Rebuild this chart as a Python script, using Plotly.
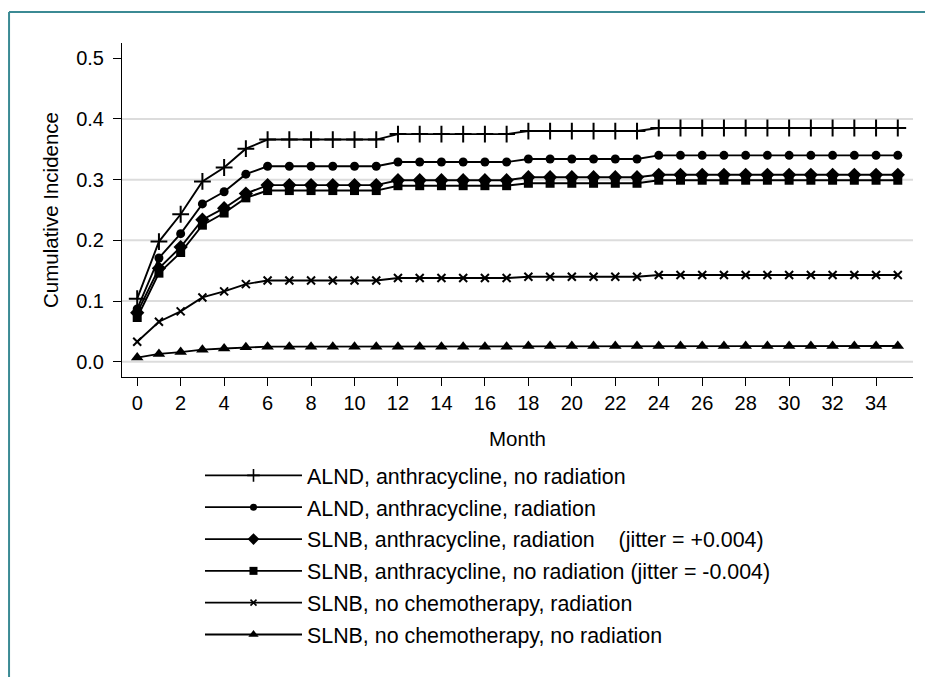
import plotly.graph_objects as go

months = list(range(36))

alnd_anth_nort = [0.104, 0.198, 0.243, 0.297, 0.320, 0.351,
                  0.366, 0.366, 0.366, 0.366, 0.366, 0.366,
                  0.375, 0.375, 0.375, 0.375, 0.375, 0.375,
                  0.380, 0.380, 0.380, 0.380, 0.380, 0.380,
                  0.385, 0.385, 0.385, 0.385, 0.385, 0.385,
                  0.385, 0.385, 0.385, 0.385, 0.385, 0.385]
alnd_anth_rt = [0.087, 0.171, 0.211, 0.260, 0.280, 0.309,
                0.322, 0.322, 0.322, 0.322, 0.322, 0.322,
                0.329, 0.329, 0.329, 0.329, 0.329, 0.329,
                0.334, 0.334, 0.334, 0.334, 0.334, 0.334,
                0.340, 0.340, 0.340, 0.340, 0.340, 0.340,
                0.340, 0.340, 0.340, 0.340, 0.340, 0.340]
slnb_anth_rt = [0.081, 0.154, 0.189, 0.234, 0.253, 0.277,
                0.291, 0.291, 0.291, 0.291, 0.291, 0.291,
                0.299, 0.299, 0.299, 0.299, 0.299, 0.299,
                0.304, 0.304, 0.304, 0.304, 0.304, 0.304,
                0.308, 0.308, 0.308, 0.308, 0.308, 0.308,
                0.308, 0.308, 0.308, 0.308, 0.308, 0.308]
slnb_anth_nort = [0.073, 0.146, 0.180, 0.225, 0.245, 0.270,
                  0.282, 0.282, 0.282, 0.282, 0.282, 0.282,
                  0.290, 0.290, 0.290, 0.290, 0.290, 0.290,
                  0.294, 0.294, 0.294, 0.294, 0.294, 0.294,
                  0.299, 0.299, 0.299, 0.299, 0.299, 0.299,
                  0.299, 0.299, 0.299, 0.299, 0.299, 0.299]
slnb_nochemo_rt = [0.033, 0.066, 0.083, 0.106, 0.116, 0.128,
                   0.134, 0.134, 0.134, 0.134, 0.134, 0.134,
                   0.138, 0.138, 0.138, 0.138, 0.138, 0.138,
                   0.140, 0.140, 0.140, 0.140, 0.140, 0.140,
                   0.143, 0.143, 0.143, 0.143, 0.143, 0.143,
                   0.143, 0.143, 0.143, 0.143, 0.143, 0.143]
slnb_nochemo_nort = [0.007, 0.013, 0.016, 0.020, 0.022, 0.024,
                     0.025, 0.025, 0.025, 0.025, 0.025, 0.025,
                     0.025, 0.025, 0.025, 0.025, 0.025, 0.025,
                     0.026, 0.026, 0.026, 0.026, 0.026, 0.026,
                     0.026, 0.026, 0.026, 0.026, 0.026, 0.026,
                     0.026, 0.026, 0.026, 0.026, 0.026, 0.026]

NB = "\u00a0"
series_names = [
    "ALND, anthracycline, no radiation",
    "ALND, anthracycline, radiation",
    "SLNB, anthracycline, radiation" + NB * 4 + "(jitter = +0.004)",
    "SLNB, anthracycline, no radiation (jitter = -0.004)",
    "SLNB, no chemotherapy, radiation",
    "SLNB, no chemotherapy, no radiation",
]
series_values = [alnd_anth_nort, alnd_anth_rt, slnb_anth_rt,
                 slnb_anth_nort, slnb_nochemo_rt, slnb_nochemo_nort]
symbols = ["cross-thin-open", "circle", "diamond", "square", "x-thin-open", "triangle-up"]
plot_sizes = [12, 9, 11, 9, 8, 11]
legend_sizes = [9, 7, 9, 8, 6, 9]

y_ticks = [0.0, 0.1, 0.2, 0.3, 0.4, 0.5]
y_tick_labels = ["0.0", "0.1", "0.2", "0.3", "0.4", "0.5"]
grid_values = [0.0, 0.1, 0.2, 0.3, 0.4]
x_ticks = list(range(0, 36, 2))

FONT = "Liberation Sans, Arial, Helvetica, sans-serif"

fig = go.Figure()
for i, (name, vals, sym) in enumerate(zip(series_names, series_values, symbols)):
    thin = "thin" in sym
    fig.add_trace(go.Scatter(
        x=months, y=vals, mode="lines+markers", showlegend=False,
        line=dict(color="black", width=1.9),
        marker=dict(symbol=sym, size=plot_sizes[i], color="black",
                    line=dict(color="black", width=2 if thin else 0)),
        legendgroup=f"g{i}", hoverinfo="skip"))
for i, (name, sym) in enumerate(zip(series_names, symbols)):
    thin = "thin" in sym
    fig.add_trace(go.Scatter(
        x=[None], y=[None], mode="lines+markers", name=name,
        line=dict(color="black", width=1.8),
        marker=dict(symbol=sym, size=legend_sizes[i], color="black",
                    line=dict(color="black", width=1.6 if thin else 0)),
        legendgroup=f"g{i}"))

for g in grid_values:
    fig.add_shape(type="line", xref="paper", x0=0, x1=1, yref="y", y0=g, y1=g,
                  line=dict(color="#dcdcdc", width=2), layer="below")

# outer teal frame (left and top edges)
fig.add_shape(type="line", xref="paper", yref="paper", x0=-0.1428, x1=1.03,
              y0=1.0928, y1=1.0928, line=dict(color="#3b8a94", width=2))
fig.add_shape(type="line", xref="paper", yref="paper", x0=-0.1428, x1=-0.1428,
              y0=1.0928, y1=-0.91, line=dict(color="#3b8a94", width=2))

fig.update_layout(
    width=925, height=669,
    margin=dict(l=114, r=20, t=35, b=300),
    paper_bgcolor="white", plot_bgcolor="white",
    font=dict(family=FONT, color="black", size=20),
    xaxis=dict(range=[-0.7, 35.7], tickvals=x_ticks, showgrid=False, zeroline=False,
               showline=True, linecolor="black", linewidth=1,
               ticks="outside", ticklen=8, tickcolor="black", tickwidth=1,
               ticklabelstandoff=0, tickfont=dict(size=20),
               title=dict(text="Month", font=dict(size=20.5), standoff=18)),
    yaxis=dict(range=[-0.025, 0.525], tickvals=y_ticks, ticktext=y_tick_labels,
               showgrid=False, zeroline=False,
               showline=True, linecolor="black", linewidth=1,
               ticks="outside", ticklen=8, tickcolor="black", tickwidth=1,
               ticklabelstandoff=5, tickfont=dict(size=20),
               title=dict(text="Cumulative Incidence", font=dict(size=20.5), standoff=12)),
    legend=dict(x=0.0986, xanchor="left", y=-0.2335, yanchor="top",
                itemwidth=97, traceorder="grouped", tracegroupgap=1,
                font=dict(size=21.4, family=FONT), bgcolor="rgba(0,0,0,0)",
                borderwidth=0, itemclick=False, itemdoubleclick=False),
)

fig.write_html("out.html")
